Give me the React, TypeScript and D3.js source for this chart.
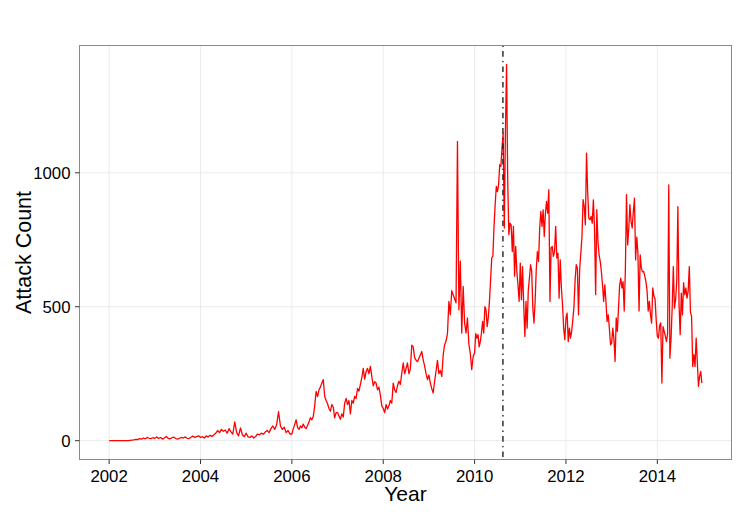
import React, { useEffect } from "react";
import * as d3 from "d3";

// Attack counts per year; points are evenly spaced within each year
const v2002 = [0,0,0,0,0,0,0,0,0,0,0,1,2,3,5,4,8,6,10,7,12,9,8,11];
const v2003 = [9,14,8,12,6,10,16,9,7,11,13,8,6,9,12,10,14,9,8,13,17,12,15,18];
const v2004 = [12,15,10,18,14,20,16,22,28,38,30,42,35,40,28,45,33,25,70,30,18,48,22,15];
const v2005 = [28,14,12,18,10,16,25,22,28,24,32,38,30,45,55,42,60,108,55,42,50,30,38,25];
const v2006 = [25,45,60,78,50,42,55,48,62,50,45,58,70,86,78,90,130,184,165,190,200,215,228,165,150,138,120,110,135,125,85,105];
const v2007 = [105,92,80,100,88,140,158,135,150,100,150,140,165,158,195,185,210,235,270,230,258,270,250,277,240,205,220,215,190,200,170,130];
const v2008 = [120,105,135,118,130,150,140,215,190,180,205,222,210,252,290,250,270,290,250,268,357,350,310,300,295,308,320,333,302,278,250,228];
const v2009 = [245,215,195,178,222,260,300,250,262,240,320,358,372,400,520,470,560,545,530,515,1117,489,670,402,576,440,402,458,360,325,265,315];
const v2010 = [327,400,383,396,350,370,402,445,402,500,489,426,460,520,600,682,688,800,880,949,930,955,1030,1024,1092,1148,794,1154,1405,968,769,812,806,706,800,614,725,632,580,520];
const v2011 = [663,526,650,507,389,520,420,560,607,657,632,495,439,520,640,706,669,794,856,800,862,762,849,893,849,937,520,720,725,688,706,800,682,700,532,675,570,507,420,377];
const v2012 = [458,476,370,420,383,408,451,500,600,657,644,470,640,700,760,900,874,806,1073,930,831,825,837,812,899,794,545,862,744,694,669,632,582,520,582,520,445,470,420,358];
const v2013 = [364,420,380,296,458,408,495,580,607,570,594,484,632,918,731,790,881,818,794,856,905,675,760,700,484,694,644,630,632,615,594,560,484,520,470,439,570,540,530,450];
const v2014 = [390,383,430,440,215,426,408,390,370,400,955,308,380,495,650,495,526,594,874,510,396,551,470,590,545,570,532,557,650,480,464,277,321,277,383,296,203,240,259,215];

const years = [2002, 2003, 2004, 2005, 2006, 2007, 2008, 2009, 2010, 2011, 2012, 2013, 2014];
const yearValues = [v2002, v2003, v2004, v2005, v2006, v2007, v2008, v2009, v2010, v2011, v2012, v2013, v2014];

const xTicks = [2002, 2004, 2006, 2008, 2010, 2012, 2014];
const yTicks = [0, 500, 1000];
const markerDate = 2010.62;

const W = 750;
const H = 515;
const panel = { left: 79.5, right: 731.5, top: 45.5, bottom: 459.5 };

type Pt = { t: number; v: number };

const data: Pt[] = [];
years.forEach((yr, k) => {
  const vals = yearValues[k];
  vals.forEach((v, i) => data.push({ t: yr + i / vals.length, v }));
});

function expand(ext: [number, number], f = 0.05): [number, number] {
  const r = ext[1] - ext[0];
  return [ext[0] - r * f, ext[1] + r * f];
}

export default function App() {
  useEffect(() => {
    document.body.style.margin = "0";
  }, []);

  const x = d3
    .scaleLinear()
    .domain(expand(d3.extent(data, (d) => d.t) as [number, number]))
    .range([panel.left, panel.right]);
  const y = d3
    .scaleLinear()
    .domain(expand([0, d3.max(data, (d) => d.v) as number]))
    .range([panel.bottom, panel.top]);

  const line = d3
    .line<Pt>()
    .x((d) => x(d.t))
    .y((d) => y(d.v));

  const font = "'Liberation Sans', Arial, Helvetica, sans-serif";
  const gridColor = "#ebebeb";

  return (
    <svg
      width={W}
      height={H}
      style={{ position: "absolute", left: 0, top: 0, background: "#fff" }}
      fontFamily={font}
    >
      <rect x={0} y={0} width={W} height={H} fill="#fff" />
      {xTicks.map((t) => (
        <line
          key={"gx" + t}
          x1={x(t)}
          x2={x(t)}
          y1={panel.top}
          y2={panel.bottom}
          stroke={gridColor}
          strokeWidth={1}
        />
      ))}
      {yTicks.map((t) => (
        <line
          key={"gy" + t}
          x1={panel.left}
          x2={panel.right}
          y1={y(t)}
          y2={y(t)}
          stroke={gridColor}
          strokeWidth={1}
        />
      ))}
      <path
        d={line(data) || ""}
        fill="none"
        stroke="#ff0000"
        strokeWidth={1.3}
        strokeLinejoin="round"
      />
      <line
        x1={x(markerDate)}
        x2={x(markerDate)}
        y1={panel.top}
        y2={panel.bottom}
        stroke="#222"
        strokeWidth={1.4}
        strokeDasharray="1.4,4.2,5.6,4.2"
      />
      <rect
        x={panel.left}
        y={panel.top}
        width={panel.right - panel.left}
        height={panel.bottom - panel.top}
        fill="none"
        stroke="#8a8a8a"
        strokeWidth={1}
      />
      {xTicks.map((t) => (
        <g key={"xt" + t}>
          <line
            x1={x(t)}
            x2={x(t)}
            y1={panel.bottom}
            y2={panel.bottom + 4.5}
            stroke="#333"
            strokeWidth={1}
          />
          <text
            x={x(t)}
            y={482.3}
            textAnchor="middle"
            fontSize={16.8}
            fill="#000"
          >
            {t}
          </text>
        </g>
      ))}
      {yTicks.map((t) => (
        <g key={"yt" + t}>
          <line
            x1={panel.left - 4.5}
            x2={panel.left}
            y1={y(t)}
            y2={y(t)}
            stroke="#333"
            strokeWidth={1}
          />
          <text
            x={70.5}
            y={y(t)}
            dy="0.36em"
            textAnchor="end"
            fontSize={16.8}
            fill="#000"
          >
            {t}
          </text>
        </g>
      ))}
      <text
        x={(panel.left + panel.right) / 2}
        y={500.5}
        textAnchor="middle"
        fontSize={21}
        fill="#000"
      >
        Year
      </text>
      <text
        transform={`translate(30.5, ${(panel.top + panel.bottom) / 2}) rotate(-90)`}
        textAnchor="middle"
        fontSize={21.5}
        fill="#000"
      >
        Attack Count
      </text>
    </svg>
  );
}
